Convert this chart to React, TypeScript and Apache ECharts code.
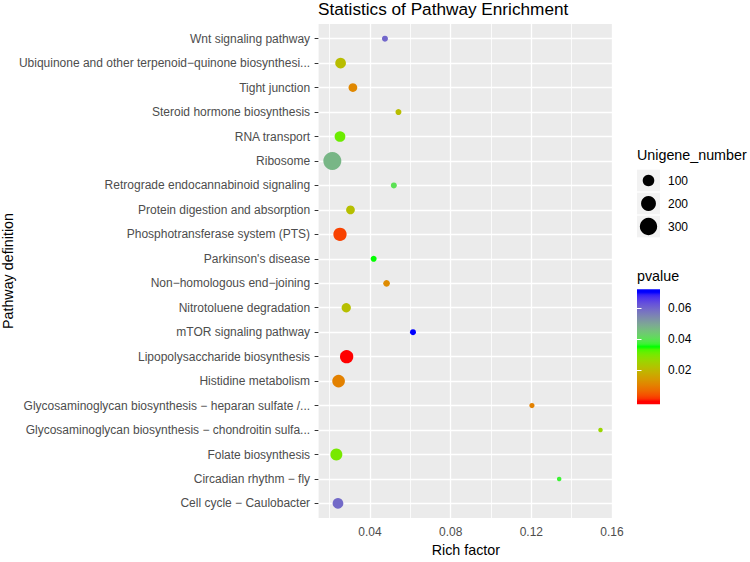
import React, { useEffect, useRef } from "react";
import * as echarts from "echarts";

const FONT = "'Liberation Sans', Arial, Helvetica, sans-serif";

const CATEGORIES = [
  "Wnt signaling pathway",
  "Ubiquinone and other terpenoid\u2212quinone biosynthesi...",
  "Tight junction",
  "Steroid hormone biosynthesis",
  "RNA transport",
  "Ribosome",
  "Retrograde endocannabinoid signaling",
  "Protein digestion and absorption",
  "Phosphotransferase system (PTS)",
  "Parkinson's disease",
  "Non\u2212homologous end\u2212joining",
  "Nitrotoluene degradation",
  "mTOR signaling pathway",
  "Lipopolysaccharide biosynthesis",
  "Histidine metabolism",
  "Glycosaminoglycan biosynthesis \u2212 heparan sulfate /...",
  "Glycosaminoglycan biosynthesis \u2212 chondroitin sulfa...",
  "Folate biosynthesis",
  "Circadian rhythm \u2212 fly",
  "Cell cycle \u2212 Caulobacter",
];

const RICH_FACTOR = [
  0.0474, 0.0254, 0.0315, 0.0541, 0.0251, 0.0213, 0.0518, 0.0303, 0.0251, 0.0418,
  0.0482, 0.0282, 0.0613, 0.0284, 0.0244, 0.1203, 0.1543, 0.0233, 0.1338, 0.0241,
];

const PVALUE = [
  0.0595, 0.021, 0.0115, 0.021, 0.031, 0.047, 0.040, 0.0215, 0.003, 0.035,
  0.012, 0.0215, 0.070, 0.0001, 0.0105, 0.0105, 0.026, 0.030, 0.037, 0.059,
];

const UNIGENE = [
  16, 79, 43, 16, 79, 330, 16, 43, 147, 16,
  20, 52, 16, 147, 129, 13, 12, 110, 12, 79,
];

const X_TICKS = [0.04, 0.08, 0.12, 0.16];
const X_MINOR = [0.02, 0.06, 0.1, 0.14];
const SIZE_BREAKS = [100, 200, 300];
const P_TICKS = [0.02, 0.04, 0.06];
const GRADIENT_ANCHORS = ["#FF0000", "#00FF00", "#0000FF"];

// ---------- helpers ----------
const P_MIN = Math.min(...PVALUE);
const P_MAX = Math.max(...PVALUE);
const N_MIN = 12;
const N_MAX = 330;
function sizeFn(n: number): number {
  const f = Math.max(0, Math.min(1, (n - N_MIN) / (N_MAX - N_MIN)));
  return 4.5 + 13.5 * Math.sqrt(f);
}

function hexToRgb(h: string): number[] {
  const s = h.replace("#", "");
  return [0, 2, 4].map((i) => parseInt(s.slice(i, i + 2), 16));
}
function toLin(c: number) {
  c /= 255;
  return c <= 0.04045 ? c / 12.92 : Math.pow((c + 0.055) / 1.055, 2.4);
}
function fromLin(c: number) {
  const v = c <= 0.0031308 ? 12.92 * c : 1.055 * Math.pow(c, 1 / 2.4) - 0.055;
  return Math.max(0, Math.min(255, Math.round(v * 255)));
}
const WX = 0.95047, WY = 1.0, WZ = 1.08883;
function rgbToLab(rgb: number[]): number[] {
  const [r, g, b] = rgb.map(toLin);
  const X = (0.4124 * r + 0.3576 * g + 0.1805 * b) / WX;
  const Y = (0.2126 * r + 0.7152 * g + 0.0722 * b) / WY;
  const Z = (0.0193 * r + 0.1192 * g + 0.9505 * b) / WZ;
  const f = (t: number) => (t > 0.008856 ? Math.cbrt(t) : 7.787 * t + 16 / 116);
  const fx = f(X), fy = f(Y), fz = f(Z);
  return [116 * fy - 16, 500 * (fx - fy), 200 * (fy - fz)];
}
function labToHex(lab: number[]): string {
  const [L, a, b] = lab;
  const fy = (L + 16) / 116;
  const fx = fy + a / 500;
  const fz = fy - b / 200;
  const inv = (t: number) => (t * t * t > 0.008856 ? t * t * t : (t - 16 / 116) / 7.787);
  const X = inv(fx) * WX, Y = inv(fy) * WY, Z = inv(fz) * WZ;
  const r = 3.2406 * X - 1.5372 * Y - 0.4986 * Z;
  const g = -0.9689 * X + 1.8758 * Y + 0.0415 * Z;
  const bb = 0.0557 * X - 0.204 * Y + 1.057 * Z;
  return "#" + [r, g, bb].map((c) => fromLin(c).toString(16).padStart(2, "0")).join("");
}
function ramp(anchors: string[], n: number): string[] {
  const labs = anchors.map((h) => rgbToLab(hexToRgb(h)));
  const out: string[] = [];
  for (let i = 0; i < n; i++) {
    const t = (i / (n - 1)) * (labs.length - 1);
    const k = Math.min(Math.floor(t), labs.length - 2);
    const f = t - k;
    out.push(labToHex(labs[k].map((v, j) => v + (labs[k + 1][j] - v) * f)));
  }
  return out;
}
const RAMP = ramp(GRADIENT_ANCHORS, 41);

// colourbar (ggplot nbin offset: data range spans 95% of bar)
const CB_PAD = 0.025 / 0.95;
const CB_MIN = P_MIN - CB_PAD * (P_MAX - P_MIN);
const CB_MAX = P_MAX + CB_PAD * (P_MAX - P_MIN);

export default function App() {
  const ref = useRef<HTMLDivElement>(null);
  useEffect(() => {
    document.body.style.margin = "0";
    if (!ref.current) return;
    const chart = echarts.init(ref.current, undefined, { renderer: "svg" });

    const data = CATEGORIES.map((c, i) => [RICH_FACTOR[i], i, PVALUE[i], UNIGENE[i], c]);

    const gradStops = [
      { offset: 0, color: RAMP[RAMP.length - 1] },
      ...RAMP.map((col, i) => ({
        offset: 1 - (0.025 + 0.95 * (i / (RAMP.length - 1))),
        color: col,
      })).reverse(),
      { offset: 1, color: RAMP[0] },
    ];
    const cbFill = new echarts.graphic.LinearGradient(0, 0, 0, 1, gradStops);

    const gridLines: any[] = [
      ...X_MINOR.map((v) => ({ xAxis: v, lineStyle: { color: "#fff", width: 0.8, type: "solid" } })),
      ...X_TICKS.map((v) => ({ xAxis: v, lineStyle: { color: "#fff", width: 1.3, type: "solid" } })),
      ...CATEGORIES.map((_, i) => ({ yAxis: i, lineStyle: { color: "#fff", width: 1.3, type: "solid" } })),
    ];

    const legendRowTop = 180.5;
    const legendRowStep = 23;
    const sizeLegend: any[] = [];
    SIZE_BREAKS.forEach((n, i) => {
      const cy = legendRowTop + i * legendRowStep;
      sizeLegend.push({
        type: "rect",
        shape: { x: 637, y: cy - 10.8, width: 23, height: 21.6 },
        style: { fill: "#F2F2F2" },
        silent: true,
      });
      sizeLegend.push({
        type: "circle",
        shape: { cx: 648.5, cy, r: sizeFn(n) / 2 },
        style: { fill: "#000" },
        silent: true,
      });
      sizeLegend.push({
        type: "text",
        x: 668,
        y: cy,
        style: { text: String(n), fontSize: 12, fontFamily: FONT, fill: "#000", align: "left", verticalAlign: "middle" },
        silent: true,
      });
    });

    const option: any = {
      animation: false,
      backgroundColor: "#ffffff",
      textStyle: { fontFamily: FONT },
      title: {
        text: "Statistics of Pathway Enrichment",
        left: 318,
        top: 0,
        padding: 0,
        textStyle: { fontSize: 17.2, fontWeight: "normal", color: "#000", fontFamily: FONT },
      },
      grid: [
        { left: 317, top: 24, width: 296, height: 503, show: true, backgroundColor: "#EBEBEB", borderWidth: 0, containLabel: false },
        { left: 637, top: 289.3, width: 23, height: 115, show: true, backgroundColor: cbFill, borderWidth: 0, containLabel: false },
      ],
      xAxis: [
        {
          gridIndex: 0,
          type: "value",
          min: 0.0145,
          max: 0.1605,
          name: "Rich factor",
          nameLocation: "middle",
          nameGap: 24,
          nameTextStyle: { fontSize: 14.3, color: "#000", fontFamily: FONT },
          axisLine: { show: false },
          axisTick: { show: true, length: 3.5, lineStyle: { color: "#333", width: 1 }, customValues: X_TICKS },
          axisLabel: {
            customValues: X_TICKS,
            formatter: (v: number) => v.toFixed(2),
            margin: 8,
            color: "#4D4D4D",
            fontSize: 12,
            fontFamily: FONT,
          },
          splitLine: { show: false },
        },
        { gridIndex: 1, type: "value", show: false, min: 0, max: 1 },
      ],
      yAxis: [
        {
          gridIndex: 0,
          type: "value",
          inverse: true,
          min: -0.6,
          max: CATEGORIES.length - 0.4,
          name: "Pathway definition",
          nameLocation: "middle",
          nameRotate: 90,
          nameGap: 303,
          nameTextStyle: { fontSize: 14.3, color: "#000", fontFamily: FONT },
          axisLine: { show: false },
          axisTick: { show: true, length: 4, lineStyle: { color: "#333", width: 1 }, customValues: CATEGORIES.map((_, i) => i) },
          axisLabel: {
            customValues: CATEGORIES.map((_, i) => i),
            formatter: (v: number) => CATEGORIES[Math.round(v)] ?? "",
            margin: 8.5,
            color: "#4D4D4D",
            fontSize: 12,
            fontFamily: FONT,
          },
          splitLine: { show: false },
        },
        {
          gridIndex: 1,
          type: "value",
          position: "right",
          min: CB_MIN,
          max: CB_MAX,
          axisLine: { show: false },
          axisTick: { show: true, inside: true, length: 4.5, lineStyle: { color: "#fff", width: 1 }, customValues: P_TICKS },
          axisLabel: {
            customValues: P_TICKS,
            formatter: (v: number) => v.toFixed(2),
            margin: 8,
            color: "#000",
            fontSize: 12,
            fontFamily: FONT,
          },
          splitLine: { show: false },
        },
        {
          gridIndex: 1,
          type: "value",
          position: "left",
          min: CB_MIN,
          max: CB_MAX,
          axisLine: { show: false },
          axisTick: { show: true, inside: true, length: 4.5, lineStyle: { color: "#fff", width: 1 }, customValues: P_TICKS },
          axisLabel: { show: false },
          splitLine: { show: false },
        },
      ],
      visualMap: {
        type: "continuous",
        show: false,
        seriesIndex: 0,
        dimension: 2,
        min: P_MIN,
        max: P_MAX,
        inRange: { color: RAMP },
      },
      series: [
        {
          type: "scatter",
          xAxisIndex: 0,
          yAxisIndex: 0,
          z: 3,
          data,
          symbol: "circle",
          symbolSize: (val: any[]) => sizeFn(val[3]),
          itemStyle: { opacity: 1, borderWidth: 0 },
          markLine: {
            silent: true,
            z: 1,
            symbol: ["none", "none"],
            label: { show: false },
            emphasis: { disabled: true },
            data: gridLines,
          },
        },
        {
          type: "line",
          xAxisIndex: 1,
          yAxisIndex: 1,
          data: [],
          silent: true,
        },
      ],
      graphic: [
        {
          type: "text",
          x: 637,
          y: 155,
          style: { text: "Unigene_number", fontSize: 14.3, fontFamily: FONT, fill: "#000", align: "left", verticalAlign: "middle" },
          silent: true,
        },
        ...sizeLegend,
        {
          type: "text",
          x: 637,
          y: 276,
          style: { text: "pvalue", fontSize: 14.3, fontFamily: FONT, fill: "#000", align: "left", verticalAlign: "middle" },
          silent: true,
        },
      ],
    };

    chart.setOption(option);
    return () => chart.dispose();
  }, []);

  return <div ref={ref} style={{ width: 750, height: 562 }} />;
}
